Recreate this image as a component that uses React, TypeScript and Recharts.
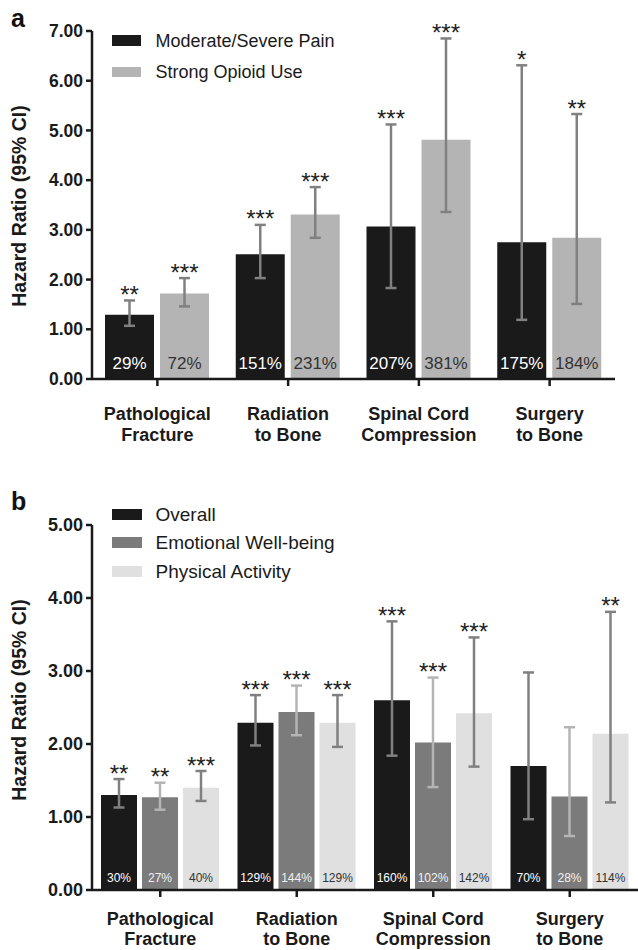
import React from 'react';
import { BarChart, Bar, XAxis, YAxis, ErrorBar, LabelList } from 'recharts';

const FONT = '"Liberation Sans", Arial, Helvetica, sans-serif';
const AXIS = '#1a1a1a';

// ---------- shared categories ----------
const categories = ['Pathological Fracture', 'Radiation to Bone', 'Spinal Cord Compression', 'Surgery to Bone'];
const categoryLine1 = ['Pathological', 'Radiation', 'Spinal Cord', 'Surgery'];
const categoryLine2 = ['Fracture', 'to Bone', 'Compression', 'to Bone'];

// ---------- panel a ----------
const ticksA = [0, 1, 2, 3, 4, 5, 6, 7];
const painHR = [1.29, 2.51, 3.07, 2.75];
const painLo = [1.07, 2.03, 1.83, 1.19];
const painHi = [1.58, 3.1, 5.12, 6.31];
const painPct = ['29%', '151%', '207%', '175%'];
const painSig = ['**', '***', '***', '*'];

const opioidHR = [1.72, 3.31, 4.81, 2.84];
const opioidLo = [1.46, 2.84, 3.36, 1.51];
const opioidHi = [2.03, 3.86, 6.85, 5.33];
const opioidPct = ['72%', '231%', '381%', '184%'];
const opioidSig = ['***', '***', '***', '**'];

// ---------- panel b ----------
const ticksB = [0, 1, 2, 3, 4, 5];
const overallHR = [1.3, 2.29, 2.6, 1.7];
const overallLo = [1.13, 1.98, 1.84, 0.97];
const overallHi = [1.52, 2.67, 3.68, 2.98];
const overallPct = ['30%', '129%', '160%', '70%'];
const overallSig = ['**', '***', '***', ''];

const emoHR = [1.27, 2.44, 2.02, 1.28];
const emoLo = [1.1, 2.12, 1.41, 0.74];
const emoHi = [1.47, 2.8, 2.91, 2.23];
const emoPct = ['27%', '144%', '102%', '28%'];
const emoSig = ['**', '***', '***', ''];

const physHR = [1.4, 2.29, 2.42, 2.14];
const physLo = [1.22, 1.96, 1.69, 1.2];
const physHi = [1.63, 2.67, 3.46, 3.81];
const physPct = ['40%', '129%', '142%', '114%'];
const physSig = ['***', '***', '***', '**'];

type Series = {
  key: string;
  name: string;
  hr: number[];
  lo: number[];
  hi: number[];
  pct: string[];
  sig: string[];
  fill: string;
  err: string;
  pctColor: string;
};

const seriesA: Series[] = [
  { key: 'pain', name: 'Moderate/Severe Pain', hr: painHR, lo: painLo, hi: painHi, pct: painPct, sig: painSig, fill: '#1a1a1a', err: '#808080', pctColor: '#ffffff' },
  { key: 'opioid', name: 'Strong Opioid Use', hr: opioidHR, lo: opioidLo, hi: opioidHi, pct: opioidPct, sig: opioidSig, fill: '#b4b4b4', err: '#808080', pctColor: '#333333' },
];

const seriesB: Series[] = [
  { key: 'overall', name: 'Overall', hr: overallHR, lo: overallLo, hi: overallHi, pct: overallPct, sig: overallSig, fill: '#1a1a1a', err: '#808080', pctColor: '#ffffff' },
  { key: 'emo', name: 'Emotional Well-being', hr: emoHR, lo: emoLo, hi: emoHi, pct: emoPct, sig: emoSig, fill: '#7b7b7b', err: '#b4b4b4', pctColor: '#f2f2f2' },
  { key: 'phys', name: 'Physical Activity', hr: physHR, lo: physLo, hi: physHi, pct: physPct, sig: physSig, fill: '#e0e0e0', err: '#808080', pctColor: '#333333' },
];

function buildData(series: Series[]) {
  return categories.map((cat, i) => {
    const row: any = { cat };
    series.forEach((s) => {
      row[s.key] = s.hr[i];
      row[s.key + 'Err'] = [s.hr[i] - s.lo[i], s.hi[i] - s.hr[i]];
    });
    return row;
  });
}

const dataA = buildData(seriesA);
const dataB = buildData(seriesB);

function getBox(props: any) {
  const vb = props.viewBox || props;
  return { x: Number(vb.x), y: Number(vb.y), width: Number(vb.width), height: Number(vb.height) };
}

const pctLabel = (s: Series, fontSize: number, offset: number) => (props: any) => {
  const { x, y, width, height } = getBox(props);
  const i = props.index;
  return (
    <text
      x={x + width / 2}
      y={y + height - offset}
      textAnchor="middle"
      dominantBaseline="central"
      fill={s.pctColor}
      fontSize={fontSize}
      fontFamily={FONT}
    >
      {s.pct[i]}
    </text>
  );
};

const sigLabel = (s: Series) => (props: any) => {
  const { x, y, width, height } = getBox(props);
  const i = props.index;
  if (!s.sig[i]) return null;
  const pxPerUnit = height / s.hr[i];
  const topPx = y + height - s.hi[i] * pxPerUnit;
  return (
    <text x={x + width / 2} y={topPx + 2.5} textAnchor="middle" fill="#222" fontSize={24} fontFamily={FONT}>
      {s.sig[i]}
    </text>
  );
};

const CatTick = (props: any) => {
  const { x, y, payload, fontSize, d1, d2 } = props;
  const i = categories.indexOf(payload.value);
  return (
    <g>
      <text x={x} y={y + d1} textAnchor="middle" dominantBaseline="central" fill={AXIS} fontSize={fontSize} fontWeight={700} fontFamily={FONT}>
        {categoryLine1[i]}
      </text>
      <text x={x} y={y + d2} textAnchor="middle" dominantBaseline="central" fill={AXIS} fontSize={fontSize} fontWeight={700} fontFamily={FONT}>
        {categoryLine2[i]}
      </text>
    </g>
  );
};

type PanelProps = {
  series: Series[];
  data: any[];
  height: number;
  margin: { top: number; right: number; bottom: number; left: number };
  yTicks: number[];
  barSize: number;
  barGap: number;
  tickFont: number;
  catFont: number;
  d1: number;
  d2: number;
  pctFont: number;
  pctOffset: number;
};

const Panel = (p: PanelProps) => (
  <BarChart width={638} height={p.height} data={p.data} margin={p.margin} barSize={p.barSize} barGap={p.barGap}>
    <XAxis
      dataKey="cat"
      type="category"
      interval={0}
      height={60}
      tickSize={7}
      tickMargin={0}
      axisLine={{ stroke: AXIS, strokeWidth: 2.5 }}
      tickLine={{ stroke: AXIS, strokeWidth: 2.5 }}
      tick={(tp: any) => <CatTick {...tp} fontSize={p.catFont} d1={p.d1} d2={p.d2} />}
    />
    <YAxis
      type="number"
      domain={[0, p.yTicks[p.yTicks.length - 1]]}
      ticks={p.yTicks}
      interval={0}
      width={92}
      tickSize={6}
      tickMargin={3}
      allowDataOverflow
      tickFormatter={(v: number) => v.toFixed(2)}
      axisLine={{ stroke: AXIS, strokeWidth: 2.5 }}
      tickLine={{ stroke: AXIS, strokeWidth: 2.5 }}
      tick={{ fill: AXIS, fontSize: p.tickFont, fontWeight: 700, fontFamily: FONT }}
    />
    {p.series.map((s) => (
      <Bar key={s.key} dataKey={s.key} name={s.name} fill={s.fill} isAnimationActive={false}>
        <ErrorBar dataKey={s.key + 'Err'} width={5.5} strokeWidth={2.5} stroke={s.err} direction="y" isAnimationActive={false} />
        <LabelList dataKey={s.key} content={pctLabel(s, p.pctFont, p.pctOffset)} />
        <LabelList dataKey={s.key} content={sigLabel(s)} />
      </Bar>
    ))}
  </BarChart>
);

const Legend = ({ series, rows, fontSize, swatchH, swatchW }: { series: Series[]; rows: number[]; fontSize: number; swatchH: number; swatchW: number }) => (
  <>
    {series.map((s, i) => (
      <React.Fragment key={s.key}>
        <div
          style={{
            position: 'absolute',
            left: 111.5,
            top: rows[i] - swatchH / 2,
            width: swatchW,
            height: swatchH,
            background: s.fill,
          }}
        />
        <div
          style={{
            position: 'absolute',
            left: 155.5,
            top: rows[i] - 0.49 * fontSize,
            fontSize,
            lineHeight: 1,
            fontFamily: FONT,
            color: '#1a1a1a',
            whiteSpace: 'nowrap',
          }}
        >
          {s.name}
        </div>
      </React.Fragment>
    ))}
  </>
);

const YTitle = ({ cy }: { cy: number }) => (
  <div
    style={{
      position: 'absolute',
      left: 20,
      top: cy,
      transform: 'translate(-50%, -50%) rotate(-90deg)',
      fontSize: 19.5,
      lineHeight: 1,
      fontWeight: 700,
      fontFamily: FONT,
      color: '#1a1a1a',
      whiteSpace: 'nowrap',
    }}
  >
    Hazard Ratio (95% CI)
  </div>
);

const PanelLetter = ({ text, top }: { text: string; top: number }) => (
  <div
    style={{
      position: 'absolute',
      left: 11,
      top,
      fontSize: 25,
      lineHeight: 1,
      fontWeight: 700,
      fontFamily: FONT,
      color: '#111',
    }}
  >
    {text}
  </div>
);

export default function App() {
  return (
    <div style={{ position: 'absolute', left: 0, top: 0, width: 638, height: 950, background: '#ffffff', overflow: 'hidden' }}>
      <div style={{ position: 'absolute', left: 0, top: 0 }}>
        <Panel
          series={seriesA}
          data={dataA}
          height={460}
          margin={{ top: 31, right: 23, bottom: 21, left: 0 }}
          yTicks={ticksA}
          barSize={49}
          barGap={6}
          tickFont={17.5}
          catFont={18}
          d1={27.7}
          d2={48.7}
          pctFont={17}
          pctOffset={15.3}
        />
      </div>
      <div style={{ position: 'absolute', left: 0, top: 460 }}>
        <Panel
          series={seriesB}
          data={dataB}
          height={490}
          margin={{ top: 65, right: 0, bottom: 0, left: 0 }}
          yTicks={ticksB}
          barSize={36}
          barGap={5}
          tickFont={18}
          catFont={18}
          d1={22}
          d2={41.5}
          pctFont={12}
          pctOffset={11.7}
        />
      </div>
      <PanelLetter text="a" top={5.5} />
      <PanelLetter text="b" top={489} />
      <YTitle cy={206} />
      <YTitle cy={700} />
      <Legend series={seriesA} rows={[40.6, 72]} fontSize={18} swatchH={10.5} swatchW={29} />
      <Legend series={seriesB} rows={[514.6, 542.8, 571.2]} fontSize={19} swatchH={11} swatchW={30} />
    </div>
  );
}
